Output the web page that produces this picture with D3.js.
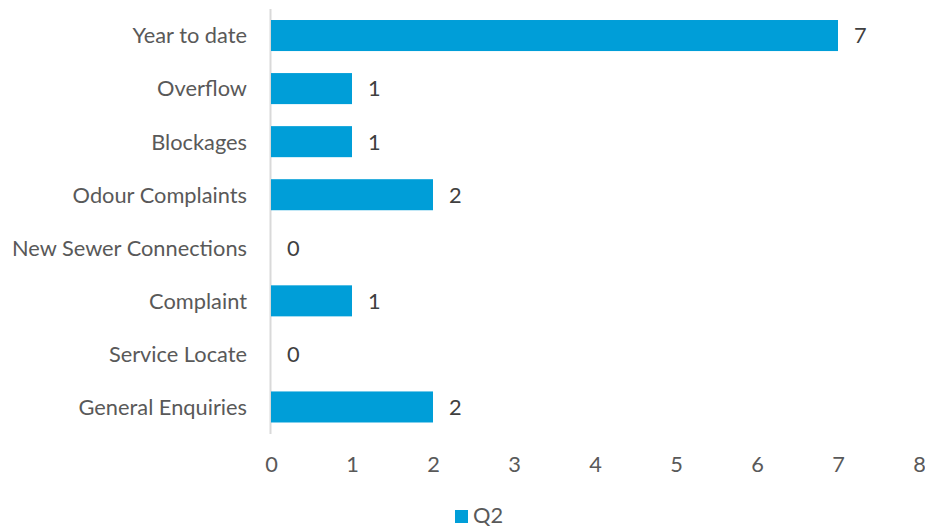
<!DOCTYPE html>
<html>
<head>
<meta charset="utf-8">
<script src="https://cdn.jsdelivr.net/npm/d3@7"></script>
<style>
  html, body { margin: 0; padding: 0; background: #ffffff; }
  svg { display: block; font-family: Lato, "Open Sans", sans-serif; }
</style>
</head>
<body>
<svg id="chart" width="925" height="527"></svg>
<script>
// Sewer service requests, Q2
const categories = ["Year to date", "Overflow", "Blockages", "Odour Complaints",
  "New Sewer Connections", "Complaint", "Service Locate", "General Enquiries"];
const values = [7, 1, 1, 2, 0, 1, 0, 2];
const xTicks = [0, 1, 2, 3, 4, 5, 6, 7, 8];
const seriesName = "Q2";

const svg = d3.select("#chart");
const barColor = "#009ed8";
const fontSize = 21.8;

const x = d3.scaleLinear().domain([0, 8]).range([271, 919]);
const y = d3.scaleBand().domain(categories).range([9, 433.5]).paddingInner(0.415).paddingOuter(0.2075);

// vertical axis line
svg.append("line")
  .attr("x1", x(0) - 0.5).attr("x2", x(0) - 0.5)
  .attr("y1", 9).attr("y2", 434)
  .attr("stroke", "#d9d9d9").attr("stroke-width", 2);

// bars
svg.append("g").selectAll("rect")
  .data(categories)
  .join("rect")
  .attr("x", x(0))
  .attr("y", d => y(d))
  .attr("width", (d, i) => x(values[i]) - x(0))
  .attr("height", y.bandwidth())
  .attr("fill", barColor);

// value labels
svg.append("g").selectAll("text")
  .data(categories)
  .join("text")
  .attr("x", (d, i) => x(values[i]) + 16)
  .attr("y", d => y(d) + y.bandwidth() / 2)
  .attr("dy", "0.36em")
  .attr("font-size", fontSize)
  .attr("fill", "#404040")
  .text((d, i) => values[i]);

// category labels
svg.append("g").selectAll("text")
  .data(categories)
  .join("text")
  .attr("x", 247)
  .attr("y", d => y(d) + y.bandwidth() / 2)
  .attr("dy", "0.36em")
  .attr("text-anchor", "end")
  .attr("font-size", fontSize)
  .attr("fill", "#595959")
  .text(d => d);

// x axis tick labels
const xAxis = d3.axisBottom(x).tickValues(xTicks).tickSize(0).tickPadding(0);
const gx = svg.append("g").attr("transform", "translate(0,457)").call(xAxis);
gx.select(".domain").remove();
gx.selectAll("text")
  .attr("font-family", "Lato, 'Open Sans', sans-serif")
  .attr("font-size", fontSize)
  .attr("fill", "#595959");

// legend
const legend = svg.append("g");
legend.append("rect")
  .attr("x", 455).attr("y", 510).attr("width", 13).attr("height", 13)
  .attr("fill", barColor);
legend.append("text")
  .attr("x", 473).attr("y", 523)
  .attr("font-size", fontSize)
  .attr("fill", "#595959")
  .text(seriesName);
</script>
</body>
</html>
